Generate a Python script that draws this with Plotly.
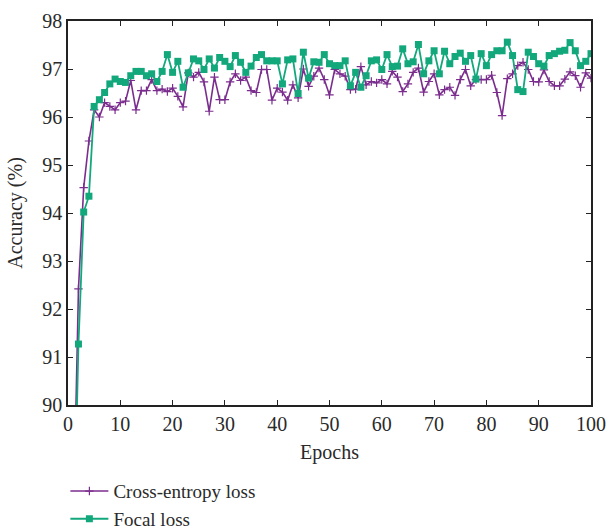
import plotly.graph_objects as go

epochs = list(range(1, 101))

cross_entropy = [
    87.3, 92.42, 94.53, 95.50, 96.15, 96.00, 96.30, 96.22, 96.15, 96.30,
    96.33, 96.76, 96.15, 96.55, 96.55, 96.78, 96.55, 96.58, 96.53, 96.60,
    96.43, 96.21, 96.92, 96.83, 96.93, 96.73, 96.12, 96.83, 96.36, 96.36,
    96.73, 96.90, 96.76, 96.83, 96.55, 96.51, 96.99, 96.99, 96.35, 96.60,
    96.52, 96.35, 96.67, 96.40, 97.00, 96.64, 96.85, 97.02, 96.78, 96.46,
    96.99, 96.90, 96.85, 96.57, 96.58, 97.05, 96.67, 96.74, 96.71, 96.78,
    96.69, 96.95, 96.83, 96.53, 96.69, 96.93, 97.02, 96.52, 96.74, 96.90,
    96.46, 96.57, 96.62, 96.45, 96.78, 96.99, 96.65, 96.78, 96.78, 96.78,
    96.87, 96.51, 96.03, 96.80, 96.90, 97.07, 97.14, 96.99, 96.74, 96.73,
    96.98, 96.74, 96.65, 96.65, 96.79, 96.94, 96.86, 96.62, 96.92, 96.81,
]

focal = [
    86.7, 91.27, 94.02, 94.35, 96.22, 96.36, 96.51, 96.69, 96.79, 96.74,
    96.72, 96.86, 96.95, 96.95, 96.86, 96.90, 96.74, 96.95, 97.30, 96.93,
    97.16, 96.62, 96.92, 97.21, 97.17, 96.99, 97.21, 97.02, 97.24, 97.16,
    97.05, 97.28, 97.14, 96.93, 97.06, 97.24, 97.30, 97.17, 97.17, 97.17,
    96.69, 97.19, 97.21, 96.49, 97.35, 96.81, 97.15, 97.14, 97.30, 97.11,
    97.07, 97.07, 97.17, 96.65, 96.93, 96.62, 96.86, 97.17, 97.19, 96.99,
    97.30, 97.05, 97.06, 97.42, 97.11, 97.15, 97.51, 96.90, 97.17, 97.38,
    96.90, 97.37, 97.11, 97.26, 97.33, 97.16, 97.28, 96.79, 97.32, 97.07,
    97.30, 97.38, 97.38, 97.56, 97.28, 96.57, 96.53, 97.35, 97.26, 97.11,
    97.06, 97.28, 97.32, 97.37, 97.39, 97.55, 97.38, 97.07, 97.16, 97.32,
]

x_ticks = [0, 10, 20, 30, 40, 50, 60, 70, 80, 90, 100]
y_ticks = [90, 91, 92, 93, 94, 95, 96, 97, 98]

purple = "#7b2d8e"
green = "#12a87c"
font_family = "Liberation Serif, Times New Roman, serif"
txt = "#2a2a2a"

fig = go.Figure()
fig.add_trace(go.Scatter(
    x=epochs, y=cross_entropy, mode="lines+markers", name="Cross-entropy loss",
    line=dict(color=purple, width=1.6),
    marker=dict(symbol="cross-thin", size=6, color=purple,
                line=dict(color=purple, width=1.2)),
))
fig.add_trace(go.Scatter(
    x=epochs, y=focal, mode="lines+markers", name="Focal loss",
    line=dict(color=green, width=1.8),
    marker=dict(symbol="square", size=7, color=green),
))

axis_common = dict(
    showline=True, linecolor="#222222", linewidth=1.5, mirror="ticks",
    ticks="inside", ticklen=5, tickwidth=1.2, tickcolor="#222222",
    showgrid=False, zeroline=False, automargin=False,
    tickfont=dict(family=font_family, size=20, color=txt),
)

fig.update_xaxes(range=[0, 100], tickvals=x_ticks,
                 title=dict(text="Epochs", font=dict(family=font_family, size=20, color=txt), standoff=11),
                 **axis_common)
fig.update_yaxes(range=[90, 98], tickvals=y_ticks,
                 title=dict(text="Accuracy (%)", font=dict(family=font_family, size=20, color=txt), standoff=14),
                 **axis_common)

fig.update_layout(
    width=607, height=529,
    margin=dict(l=68, r=16, t=21, b=124, autoexpand=False),
    plot_bgcolor="white", paper_bgcolor="white",
    font=dict(family=font_family, size=20, color=txt),
    legend=dict(x=-0.005, y=-0.175, xanchor="left", yanchor="top",
                orientation="v", bgcolor="rgba(0,0,0,0)",
                font=dict(family=font_family, size=19, color=txt),
                tracegroupgap=0, itemwidth=38),
    showlegend=True,
)

fig.write_html("out.html", config={"displayModeBar": False},
               post_script="document.body.style.margin='0';document.body.style.overflow='hidden';")
